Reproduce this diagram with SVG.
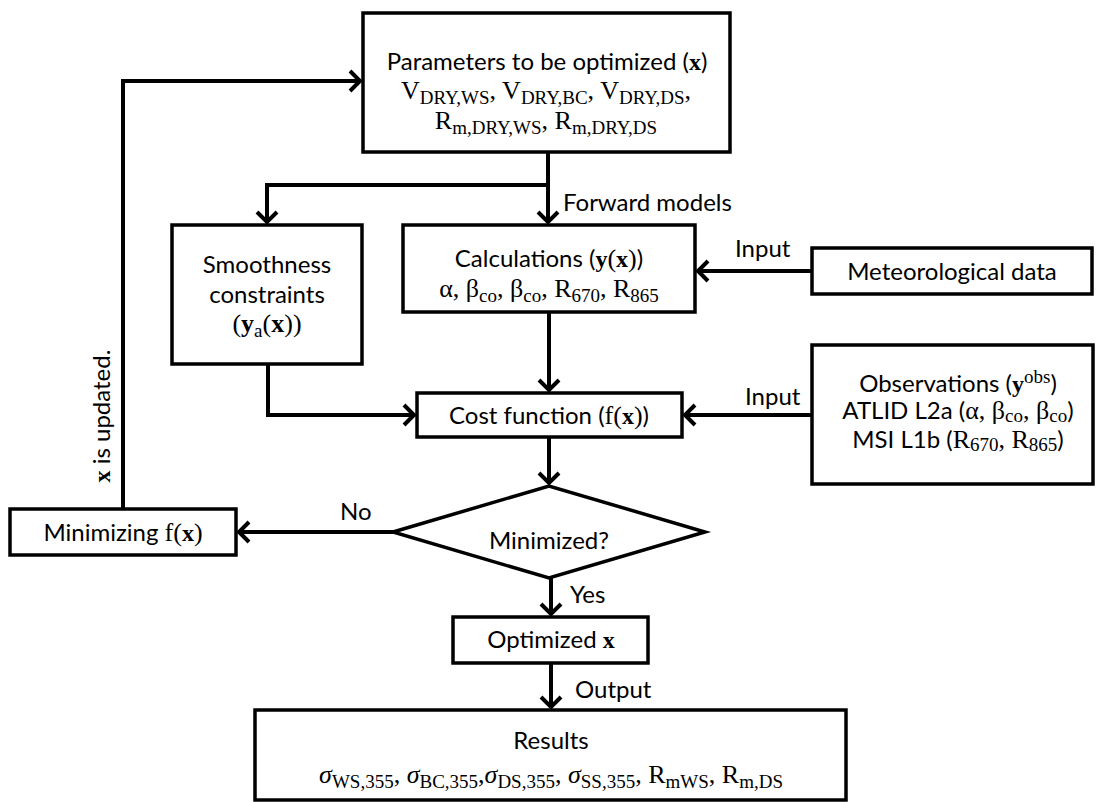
<svg xmlns="http://www.w3.org/2000/svg" width="1105" height="802" viewBox="0 0 1105 802">
<style>
.box{fill:#fff;stroke:#000;stroke-width:3.5}
.c{fill:none;stroke:#000;stroke-width:4}
.t{font-family:Lato,"Open Sans","Liberation Sans",sans-serif;font-size:24px;fill:#000}
.m{font-family:"Liberation Serif","DejaVu Serif",serif;font-size:26px;fill:#000}
.b{font-family:"Liberation Serif","DejaVu Serif",serif;font-weight:bold}
.sub{font-size:19px}
</style>
<defs>
<marker id="ah" markerUnits="userSpaceOnUse" markerWidth="30" markerHeight="30" viewBox="-20 -15 30 30" refX="0" refY="0" orient="auto" overflow="visible">
<path d="M-11,-10 L-1,0 L-11,10" fill="none" stroke="#000" stroke-width="4"/>
</marker>
</defs>
<rect width="1105" height="802" fill="#fff"/>
<g id="connectors">
<path class="c" d="M548,152 V223" marker-end="url(#ah)"/>
<path class="c" d="M548,185 H267 V223" marker-end="url(#ah)"/>
<path class="c" d="M549,312 V391" marker-end="url(#ah)"/>
<path class="c" d="M268,364 V415 H415" marker-end="url(#ah)"/>
<path class="c" d="M812,271 H697" marker-end="url(#ah)"/>
<path class="c" d="M812,415 H684" marker-end="url(#ah)"/>
<path class="c" d="M549,437 V484" marker-end="url(#ah)"/>
<path class="c" d="M393,532 H238" marker-end="url(#ah)"/>
<path class="c" d="M123,509 V81 H361" marker-end="url(#ah)"/>
<path class="c" d="M551,578 V615" marker-end="url(#ah)"/>
<path class="c" d="M551,663 V708" marker-end="url(#ah)"/>
<text class="t" x="563" y="211">Forward models</text>
<text class="t" x="735" y="257">Input</text>
<text class="t" x="745" y="405">Input</text>
<text class="t" x="340" y="520">No</text>
<text class="t" x="570" y="603">Yes</text>
<text class="t" x="575" y="698">Output</text>
<text class="t" transform="translate(110,416) rotate(-90)" text-anchor="middle"><tspan class="b">x</tspan> is updated.</text>
</g>
<g id="params">
<rect class="box" x="363" y="13" width="367" height="139"/>
<text class="t" x="547" y="70" text-anchor="middle">Parameters to be optimized (<tspan class="b">x</tspan>)</text>
<text class="m" x="546" y="99" text-anchor="middle">V<tspan class="sub" dy="5">DRY,WS</tspan><tspan dy="-5">, V</tspan><tspan class="sub" dy="5">DRY,BC</tspan><tspan dy="-5">, V</tspan><tspan class="sub" dy="5">DRY,DS</tspan><tspan dy="-5">,</tspan></text>
<text class="m" x="546" y="129" text-anchor="middle">R<tspan class="sub" dy="5">m,DRY,WS</tspan><tspan dy="-5">, R</tspan><tspan class="sub" dy="5">m,DRY,DS</tspan></text>
</g>
<g id="smoothness">
<rect class="box" x="172" y="225" width="190" height="139"/>
<text class="t" x="267" y="273" text-anchor="middle">Smoothness</text>
<text class="t" x="267" y="303" text-anchor="middle">constraints</text>
<text class="m" x="267" y="332" text-anchor="middle">(<tspan class="b">y</tspan><tspan class="sub" dy="5">a</tspan><tspan dy="-5">(</tspan><tspan class="b">x</tspan>))</text>
</g>
<g id="calculations">
<rect class="box" x="403" y="225" width="292" height="87"/>
<text class="t" x="549" y="267" text-anchor="middle">Calculations (<tspan class="b">y</tspan><tspan class="m">(</tspan><tspan class="b">x</tspan><tspan class="m">)</tspan>)</text>
<text class="m" x="549" y="297" text-anchor="middle">α, β<tspan class="sub" dy="5">co</tspan><tspan dy="-5">, β</tspan><tspan class="sub" dy="5">co</tspan><tspan dy="-5">, R</tspan><tspan class="sub" dy="5">670</tspan><tspan dy="-5">, R</tspan><tspan class="sub" dy="5">865</tspan></text>
</g>
<g id="meteo">
<rect class="box" x="812" y="248" width="280" height="46"/>
<text class="t" x="952" y="280" text-anchor="middle">Meteorological data</text>
</g>
<g id="cost">
<rect class="box" x="417" y="393" width="265" height="44"/>
<text class="t" x="549" y="424" text-anchor="middle">Cost function (<tspan class="m">f(</tspan><tspan class="b">x</tspan><tspan class="m">)</tspan>)</text>
</g>
<g id="observations">
<rect class="box" x="812" y="345" width="281" height="139"/>
<text class="t" x="958" y="392" text-anchor="middle">Observations (<tspan class="b">y</tspan><tspan class="m sub" dy="-9">obs</tspan><tspan dy="9">)</tspan></text>
<text class="t" x="958" y="419" text-anchor="middle">ATLID L2a (<tspan class="m">α, β</tspan><tspan class="m sub" dy="3">co</tspan><tspan class="m" dy="-3">, β</tspan><tspan class="m sub" dy="3">co</tspan><tspan dy="-3">)</tspan></text>
<text class="t" x="958" y="448" text-anchor="middle">MSI L1b (<tspan class="m">R</tspan><tspan class="m sub" dy="3">670</tspan><tspan class="m" dy="-3">, R</tspan><tspan class="m sub" dy="3">865</tspan><tspan dy="-3">)</tspan></text>
</g>
<g id="minimized">
<polygon class="box" points="393,532 549,486 705,532 549,578"/>
<text class="t" x="549" y="549" text-anchor="middle">Minimized?</text>
</g>
<g id="minimizing">
<rect class="box" x="10" y="509" width="226" height="46"/>
<text class="t" x="123" y="541" text-anchor="middle">Minimizing <tspan class="m">f(</tspan><tspan class="b">x</tspan><tspan class="m">)</tspan></text>
</g>
<g id="optimized">
<rect class="box" x="453" y="617" width="195" height="46"/>
<text class="t" x="551" y="648" text-anchor="middle">Optimized <tspan class="b">x</tspan></text>
</g>
<g id="results">
<rect class="box" x="255" y="710" width="591" height="90"/>
<text class="t" x="551" y="749" text-anchor="middle">Results</text>
<text class="m" x="551" y="783" text-anchor="middle"><tspan font-style="italic">σ</tspan><tspan class="sub" dy="5">WS,355</tspan><tspan dy="-5">, </tspan><tspan font-style="italic">σ</tspan><tspan class="sub" dy="5">BC,355</tspan><tspan dy="-5">,</tspan><tspan font-style="italic">σ</tspan><tspan class="sub" dy="5">DS,355</tspan><tspan dy="-5">, </tspan><tspan font-style="italic">σ</tspan><tspan class="sub" dy="5">SS,355</tspan><tspan dy="-5">, R</tspan><tspan class="sub" dy="5">mWS</tspan><tspan dy="-5">, R</tspan><tspan class="sub" dy="5">m,DS</tspan></text>
</g>
</svg>
